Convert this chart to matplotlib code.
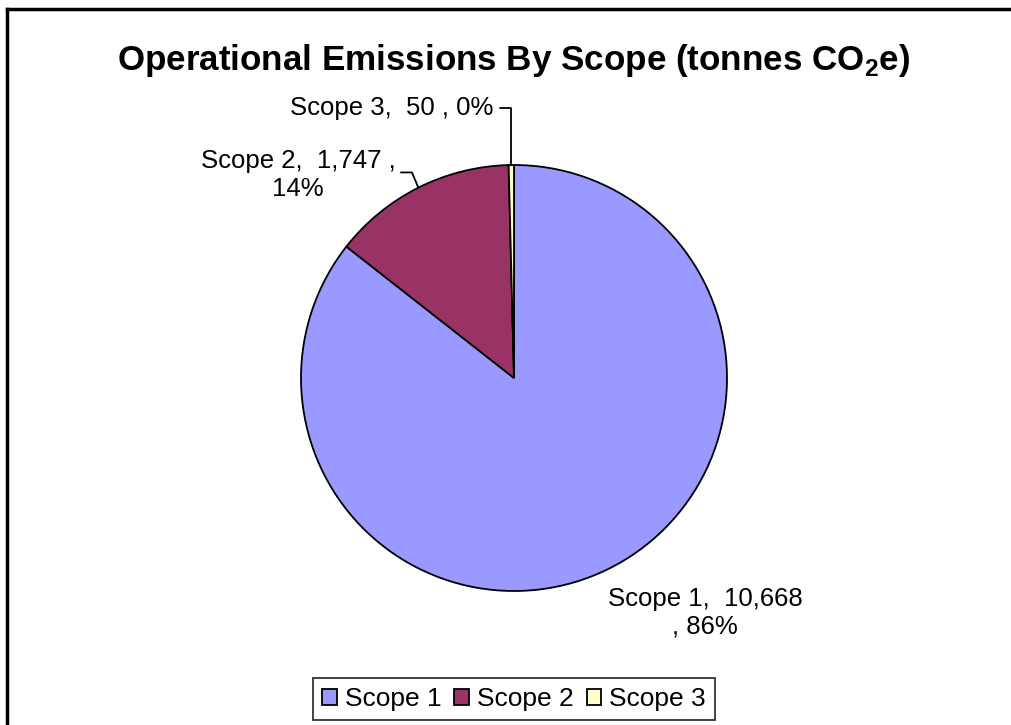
import numpy as np
import matplotlib.pyplot as plt
from matplotlib.lines import Line2D

plt.rcParams['font.family'] = ['Liberation Sans', 'DejaVu Sans']
plt.rcParams['mathtext.fontset'] = 'custom'
plt.rcParams['mathtext.rm'] = 'Liberation Sans'
plt.rcParams['mathtext.bf'] = 'Liberation Sans:bold'

# data
scopes = ["Scope 1", "Scope 2", "Scope 3"]
emissions = [10668, 1747, 50]
colors = ["#9999FF", "#993366", "#FFFFCC"]

W, H = 1012, 725
fig = plt.figure(figsize=(W / 100, H / 100), dpi=100)
ax = fig.add_axes([0, 0, 1, 1])
ax.set_xlim(0, W)
ax.set_ylim(0, H)
ax.axis("off")

cx, cy, r = 514, H - 378, 213
wedges, _ = ax.pie(emissions, colors=colors, startangle=90, counterclock=False,
                   center=(cx, cy), radius=r,
                   wedgeprops=dict(edgecolor="black", linewidth=1.3))
ax.set_xlim(0, W)
ax.set_ylim(0, H)
ax.set_aspect("equal")

total = sum(emissions)
pct = [round(100 * v / total) for v in emissions]

def edge_point(w):
    mid = np.deg2rad((w.theta1 + w.theta2) / 2)
    return cx + r * np.cos(mid), cy + r * np.sin(mid)

fs = 18.5
ls = 1.17
# Scope 1 (no leader)
ax.text(705, H - 613, "%s,  %s\n, %d%%" % (scopes[0], format(emissions[0], ","), pct[0]),
        ha="center", va="center", fontsize=fs, linespacing=ls)

# Scope 2
ax.annotate("%s,  %s ,\n%d%%" % (scopes[1], format(emissions[1], ","), pct[1]),
            xy=edge_point(wedges[1]), xytext=(298, H - 175),
            ha="center", va="center", fontsize=fs, linespacing=ls,
            arrowprops=dict(arrowstyle="-", color="black", lw=1.3,
                            connectionstyle="angle,angleA=0,angleB=113,rad=0",
                            relpos=(1.0, 0.55), shrinkA=2, shrinkB=0))

# Scope 3
ax.annotate("%s,  %s , %d%%" % (scopes[2], format(emissions[2], ","), pct[2]),
            xy=edge_point(wedges[2]), xytext=(493, H - 108),
            ha="right", va="center", fontsize=fs,
            arrowprops=dict(arrowstyle="-", color="black", lw=1.3,
                            connectionstyle="angle,angleA=0,angleB=90,rad=0",
                            relpos=(1.0, 0.5), shrinkA=3, shrinkB=0))

ax.text(514, H - 60, r"Operational Emissions By Scope (tonnes CO$_\mathbf{2}$e)",
        ha="center", va="center", fontsize=25.2, fontweight="bold")

leg = fig.legend(wedges, scopes, loc="center", bbox_to_anchor=(514 / W, 1 - 699 / H),
                 ncol=3, fontsize=19, frameon=True, fancybox=False,
                 edgecolor="black", handlelength=0.55, handleheight=0.55,
                 handletextpad=0.3, columnspacing=0.5, borderpad=0.35)
leg.get_frame().set_linewidth(1.3)

# chart border
fig.add_artist(Line2D([7 / W, 7 / W], [0, 1 - 9 / H], transform=fig.transFigure,
                      color="black", lw=2.5))
fig.add_artist(Line2D([7 / W, 1], [1 - 9 / H, 1 - 9 / H], transform=fig.transFigure,
                      color="black", lw=2.5))

plt.savefig("out.png", dpi=100)
